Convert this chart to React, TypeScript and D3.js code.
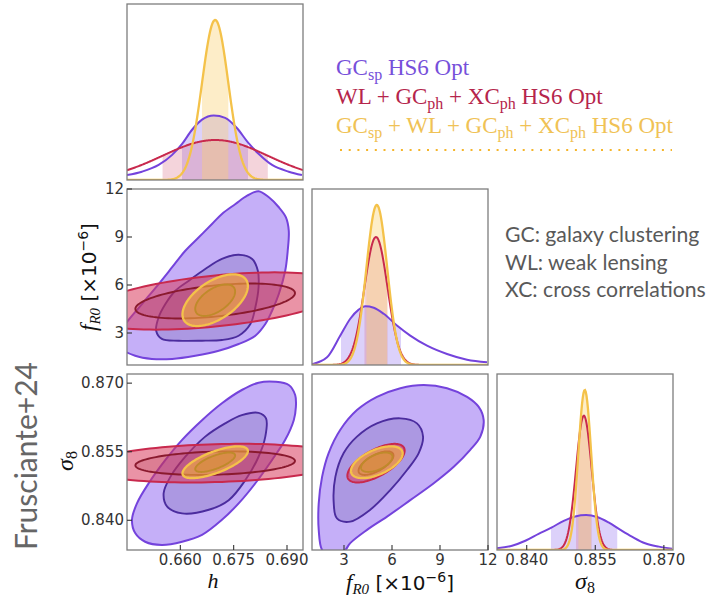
import React from "react";
import * as d3 from "d3";

type Pt = [number, number];

// ---- parameter ranges and ticks ----
const hRange: Pt = [0.645, 0.6945];
const fRange: Pt = [1, 12];
const sRange: Pt = [0.8335, 0.872];
const hTicks = [0.66, 0.675, 0.69];
const fTicks = [3, 6, 9, 12];
const sTicks = [0.84, 0.855, 0.87];

// ---- Gaussian (Fisher) forecasts ----
// WL + GCph + XCph
const wlMean = { h: 0.6698, f: 5.0, s: 0.8525 };
const wlSigma = { h: 0.0148, f: 0.72, s: 0.0017 };
const wlRho = { hf: 0.45, hs: 0.19, fs: 0.65 };
const wlPeak = { h: 0.25, f: 0.8, s: 0.84 };
// GCsp + WL + GCph + XCph
const allMean = { h: 0.6698, f: 5.05, s: 0.8527 };
const allSigma = { h: 0.0037, f: 0.65, s: 0.0014 };
const allRho = { hf: 0.55, hs: 0.7, fs: 0.55 };
const allPeak = { h: 1, f: 1, s: 1 };

// ---- GCsp chains: marginal posteriors [value, relative density] ----
const gcH1D: Pt[] = [
  [0.645, 0.031], [0.6492, 0.052], [0.6539, 0.094], [0.6577, 0.157], [0.6605, 0.226],
  [0.6633, 0.314], [0.6661, 0.377], [0.6694, 0.403], [0.6726, 0.388], [0.6759, 0.325],
  [0.679, 0.235], [0.682, 0.164], [0.6858, 0.094], [0.6905, 0.052], [0.6942, 0.031],
];
const gcF1D: Pt[] = [
  [1.0, 0.005], [1.94, 0.048], [2.77, 0.184], [3.39, 0.289], [3.92, 0.346],
  [4.33, 0.367], [4.86, 0.358], [5.48, 0.32], [6.31, 0.247], [7.14, 0.184],
  [8.19, 0.121], [9.44, 0.069], [10.69, 0.033], [11.94, 0.017],
];
const gcS1D: Pt[] = [
  [0.8335, 0.011], [0.8368, 0.027], [0.8397, 0.058], [0.8426, 0.101], [0.8454, 0.14],
  [0.8481, 0.182], [0.8506, 0.209], [0.853, 0.218], [0.8554, 0.206], [0.8579, 0.172],
  [0.8605, 0.126], [0.863, 0.084], [0.8659, 0.042], [0.8689, 0.021], [0.8718, 0.008],
];
// 68% intervals of the GCsp marginals
const gcBandH: Pt = [0.6605, 0.679];
const gcBandF: Pt = [2.81, 6.56];
const gcBandS: Pt = [0.8453, 0.8598];

// ---- GCsp chains: 2D credible contours (95% and 68%) ----
const gcHF95: Pt[] = [
  [0.682, 11.86], [0.6849, 11.48], [0.6877, 10.86], [0.6897, 10.23], [0.6905, 9.39],
  [0.6902, 8.14], [0.6895, 6.89], [0.6877, 5.44], [0.6858, 4.39], [0.6839, 3.56],
  [0.6811, 2.83], [0.6764, 2.31], [0.6708, 1.89], [0.6642, 1.58], [0.6577, 1.38],
  [0.652, 1.38], [0.6473, 1.58], [0.643, 2.06], [0.6416, 2.69], [0.6436, 3.31],
  [0.6492, 4.81], [0.6539, 6.06], [0.6577, 7.11], [0.6614, 8.14], [0.6652, 8.98],
  [0.6689, 9.81], [0.6717, 10.44], [0.6755, 11.06], [0.6788, 11.58],
];
const gcHF68: Pt[] = [
  [0.6764, 7.89], [0.6802, 7.63], [0.6818, 6.89], [0.682, 5.86], [0.6811, 4.61],
  [0.6797, 3.56], [0.6764, 2.83], [0.6717, 2.56], [0.6661, 2.52], [0.6595, 2.52],
  [0.6548, 2.63], [0.6532, 3.14], [0.6539, 3.98], [0.6558, 4.81], [0.6586, 5.64],
  [0.6624, 6.27], [0.667, 7.0], [0.6717, 7.63],
];
const gcHS95: Pt[] = [
  [0.6867, 0.8703], [0.6905, 0.8696], [0.6923, 0.8674], [0.6925, 0.8648], [0.6919, 0.8619],
  [0.6895, 0.8576], [0.6858, 0.8532], [0.6811, 0.8481], [0.6764, 0.8437], [0.6717, 0.8401],
  [0.6661, 0.8368], [0.6605, 0.8353], [0.6548, 0.8346], [0.6501, 0.8353], [0.6473, 0.8372],
  [0.6464, 0.8401], [0.6478, 0.8437], [0.6511, 0.8481], [0.6558, 0.8532], [0.6605, 0.8576],
  [0.6661, 0.8619], [0.6717, 0.8656], [0.6773, 0.8685], [0.682, 0.8701],
];
const gcHS68: Pt[] = [
  [0.682, 0.8635], [0.6841, 0.8623], [0.6839, 0.8583], [0.682, 0.8539], [0.6783, 0.8488],
  [0.6736, 0.8444], [0.668, 0.8423], [0.6605, 0.8415], [0.6563, 0.843], [0.6553, 0.8459],
  [0.6572, 0.8495], [0.6614, 0.8539], [0.667, 0.8583], [0.6726, 0.8612], [0.6773, 0.863],
];
const gcFS95: Pt[] = [
  [7.98, 0.8696], [9.44, 0.8689], [10.69, 0.867], [11.42, 0.8648], [11.73, 0.8619],
  [11.52, 0.8583], [10.89, 0.8554], [9.86, 0.8517], [8.61, 0.8481], [7.14, 0.8444],
  [5.69, 0.8408], [4.44, 0.8379], [3.39, 0.835], [2.98, 0.8331], [2.14, 0.832],
  [1.63, 0.8335], [1.42, 0.8379], [1.42, 0.8437], [1.63, 0.8495], [2.04, 0.8547],
  [2.77, 0.8598], [3.81, 0.8641], [5.06, 0.867], [6.52, 0.8689],
];
const gcFS68: Pt[] = [
  [6.52, 0.8623], [7.56, 0.8612], [7.94, 0.8583], [7.67, 0.8547], [6.94, 0.851],
  [5.89, 0.8466], [4.64, 0.8423], [3.39, 0.8397], [2.56, 0.8404], [2.36, 0.8437],
  [2.46, 0.8495], [2.98, 0.8547], [3.81, 0.8583], [5.06, 0.8612],
];

// ---- layout ----
const SIZE = 176;
const colLeft = [127, 312, 497];
const rowTop = [4, 189, 374];
const FRAME = "#7d7d7d";
const TICK = "#333";
const SANS = "'DejaVu Sans', sans-serif";
const SERIF = "'Liberation Serif', 'Times New Roman', serif";
const LABEL_SANS = "Lato, 'Open Sans', sans-serif";

type Style = {
  line: string; inner: string; fill: string; fillOp: number;
  innerFill: string; innerOp: number; band: string; bandOp: number; width: number;
};
const PURPLE: Style = {
  line: "#7443dc", inner: "#4b2c9e", fill: "#8c5ff2", fillOp: 0.5,
  innerFill: "#4a3c8c", innerOp: 0.2, band: "#9b7cf2", bandOp: 0.35, width: 2,
};
const CRIMSON: Style = {
  line: "#c8294d", inner: "#8a1a2e", fill: "#d83a5c", fillOp: 0.55,
  innerFill: "#a0203c", innerOp: 0.18, band: "#d9647f", bandOp: 0.28, width: 2,
};
const GOLD: Style = {
  line: "#f4c24a", inner: "#bf8a2a", fill: "#f3b23c", fillOp: 0.6,
  innerFill: "#d08a28", innerOp: 0.35, band: "#fbcf6e", bandOp: 0.38, width: 2.3,
};

const CHI68 = 2.3;
const CHI95 = 6.18;

function ellipse(mx: number, my: number, sx: number, sy: number, rho: number, k: number): Pt[] {
  const r = Math.sqrt(k);
  const c = Math.sqrt(1 - rho * rho);
  return d3.range(0, 360, 3).map((deg) => {
    const t = (deg * Math.PI) / 180;
    return [mx + r * sx * Math.cos(t), my + r * sy * (rho * Math.cos(t) + c * Math.sin(t))] as Pt;
  });
}

type Scale = d3.ScaleLinear<number, number>;

type Contour = { outer: Pt[]; inner: Pt[]; style: Style; smooth: boolean };

function Panel2D({ id, xs, ys, contours }: { id: string; xs: Scale; ys: Scale; contours: Contour[] }) {
  const [x0, x1] = xs.range();
  const [y1, y0] = ys.range();
  const smooth = d3.line<Pt>().x((d) => xs(d[0])).y((d) => ys(d[1])).curve(d3.curveCatmullRomClosed.alpha(0.5));
  const poly = d3.line<Pt>().x((d) => xs(d[0])).y((d) => ys(d[1])).curve(d3.curveLinearClosed);
  return (
    <g>
      <defs>
        <clipPath id={id}>
          <rect x={x0} y={y0} width={x1 - x0} height={y1 - y0} />
        </clipPath>
      </defs>
      <g clipPath={`url(#${id})`}>
        {contours.map((c, i) => {
          const gen = c.smooth ? smooth : poly;
          return (
            <g key={i}>
              <path d={gen(c.outer) ?? ""} fill={c.style.fill} fillOpacity={c.style.fillOp} />
              <path d={gen(c.inner) ?? ""} fill={c.style.innerFill} fillOpacity={c.style.innerOp} />
              <path d={gen(c.outer) ?? ""} fill="none" stroke={c.style.line} strokeWidth={c.style.width} />
              <path d={gen(c.inner) ?? ""} fill="none" stroke={c.style.inner} strokeWidth={1.9} />
            </g>
          );
        })}
      </g>
      <rect x={x0} y={y0} width={x1 - x0} height={y1 - y0} fill="none" stroke={FRAME} strokeWidth={1.3} />
    </g>
  );
}

type Curve1D = { pts: Pt[]; band: Pt; style: Style; smooth: boolean };

function gaussCurve(domain: Pt, mean: number, sigma: number, peak: number): Pt[] {
  const n = 240;
  return d3.range(n + 1).map((i) => {
    const x = domain[0] + ((domain[1] - domain[0]) * i) / n;
    return [x, peak * Math.exp(-0.5 * ((x - mean) / sigma) ** 2)] as Pt;
  });
}

function Panel1D({ id, xs, top, curves }: { id: string; xs: Scale; top: number; curves: Curve1D[] }) {
  const [x0, x1] = xs.range();
  const ys = d3.scaleLinear().domain([0, 1.1]).range([top + SIZE, top]);
  return (
    <g>
      <defs>
        <clipPath id={id}>
          <rect x={x0} y={top} width={x1 - x0} height={SIZE} />
        </clipPath>
        {curves.map((c, i) => (
          <clipPath id={`${id}-band${i}`} key={i}>
            <rect x={xs(c.band[0])} y={top} width={xs(c.band[1]) - xs(c.band[0])} height={SIZE} />
          </clipPath>
        ))}
      </defs>
      <g clipPath={`url(#${id})`}>
        {curves.map((c, i) => {
          const area = d3.area<Pt>().x((d) => xs(d[0])).y0(top + SIZE).y1((d) => ys(d[1]))
            .curve(c.smooth ? d3.curveMonotoneX : d3.curveLinear);
          return (
            <path key={i} d={area(c.pts) ?? ""} fill={c.style.band} fillOpacity={c.style.bandOp}
              clipPath={`url(#${id}-band${i})`} />
          );
        })}
        {curves.map((c, i) => {
          const line = d3.line<Pt>().x((d) => xs(d[0])).y((d) => ys(d[1]))
            .curve(c.smooth ? d3.curveMonotoneX : d3.curveLinear);
          return <path key={i} d={line(c.pts) ?? ""} fill="none" stroke={c.style.line} strokeWidth={c.style.width} />;
        })}
      </g>
      <rect x={x0} y={top} width={x1 - x0} height={SIZE} fill="none" stroke={FRAME} strokeWidth={1.3} />
    </g>
  );
}

function AxisBottom({ xs, y, ticks, fmt }: { xs: Scale; y: number; ticks: number[]; fmt: (v: number) => string }) {
  return (
    <g>
      {ticks.map((t) => (
        <g key={t}>
          <line x1={xs(t)} x2={xs(t)} y1={y} y2={y - 5} stroke={TICK} strokeWidth={1.1} />
          <text x={xs(t)} y={y + 15} textAnchor="middle" fontFamily={SANS} fontSize={15} fill="#333">
            {fmt(t)}
          </text>
        </g>
      ))}
    </g>
  );
}

function AxisLeft({ ys, x, ticks, fmt }: { ys: Scale; x: number; ticks: number[]; fmt: (v: number) => string }) {
  return (
    <g>
      {ticks.map((t) => (
        <g key={t}>
          <line x1={x} x2={x + 5} y1={ys(t)} y2={ys(t)} stroke={TICK} strokeWidth={1.1} />
          <text x={x - 3} y={ys(t)} textAnchor="end" dominantBaseline="central" fontFamily={SANS} fontSize={15} fill="#333">
            {fmt(t)}
          </text>
        </g>
      ))}
    </g>
  );
}

type Part = { t: string; sub?: boolean };
const legendGC: Part[] = [{ t: "GC" }, { t: "sp", sub: true }, { t: " HS6 Opt" }];
const legendWL: Part[] = [
  { t: "WL + GC" }, { t: "ph", sub: true }, { t: " + XC" }, { t: "ph", sub: true }, { t: " HS6 Opt" },
];
const legendAll: Part[] = [
  { t: "GC" }, { t: "sp", sub: true }, { t: " + WL + GC" }, { t: "ph", sub: true },
  { t: " + XC" }, { t: "ph", sub: true }, { t: " HS6 Opt" },
];
const glossary = ["GC: galaxy clustering", "WL: weak lensing", "XC: cross correlations"];

function RichText({ x, y, parts, color }: { x: number; y: number; parts: Part[]; color: string }) {
  let prevSub = false;
  return (
    <text x={x} y={y} fill={color} fontFamily={SERIF} fontSize={23} xmlSpace="preserve">
      {parts.map((p, i) => {
        const dy = p.sub && !prevSub ? 5 : !p.sub && prevSub ? -5 : 0;
        prevSub = !!p.sub;
        return (
          <tspan key={i} dy={dy} fontSize={p.sub ? 16 : 23}>
            {p.t}
          </tspan>
        );
      })}
    </text>
  );
}

function FLabel({ x, y, rotate }: { x: number; y: number; rotate?: boolean }) {
  return (
    <text transform={`translate(${x},${y})${rotate ? " rotate(-90)" : ""}`} textAnchor="middle" fill="#111" xmlSpace="preserve">
      <tspan fontFamily={SERIF} fontStyle="italic" fontSize={23}>f</tspan>
      <tspan fontFamily={SERIF} fontStyle="italic" fontSize={15} dy={4}>R0</tspan>
      <tspan fontFamily={SANS} fontSize={20} dy={-4}>{" [×10"}</tspan>
      <tspan fontFamily={SANS} fontSize={14} dy={-8}>−6</tspan>
      <tspan fontFamily={SANS} fontSize={20} dy={8}>]</tspan>
    </text>
  );
}

function SigmaLabel({ x, y, rotate }: { x: number; y: number; rotate?: boolean }) {
  return (
    <text transform={`translate(${x},${y})${rotate ? " rotate(-90)" : ""}`} textAnchor="middle" fill="#111">
      <tspan fontFamily={SERIF} fontStyle="italic" fontSize={24}>σ</tspan>
      <tspan fontFamily={SERIF} fontSize={16} dy={4}>8</tspan>
    </text>
  );
}

export default function App() {
  const xH = d3.scaleLinear().domain(hRange).range([colLeft[0], colLeft[0] + SIZE]);
  const xF = d3.scaleLinear().domain(fRange).range([colLeft[1], colLeft[1] + SIZE]);
  const xS = d3.scaleLinear().domain(sRange).range([colLeft[2], colLeft[2] + SIZE]);
  const yF = d3.scaleLinear().domain(fRange).range([rowTop[1] + SIZE, rowTop[1]]);
  const yS = d3.scaleLinear().domain(sRange).range([rowTop[2] + SIZE, rowTop[2]]);

  const gauss2 = (
    mean: typeof wlMean, sig: typeof wlSigma, rho: number, a: "h" | "f" | "s", b: "h" | "f" | "s", style: Style,
  ): Contour => ({
    outer: ellipse(mean[a], mean[b], sig[a], sig[b], rho, CHI95),
    inner: ellipse(mean[a], mean[b], sig[a], sig[b], rho, CHI68),
    style,
    smooth: false,
  });

  const gauss1 = (mean: typeof wlMean, sig: typeof wlSigma, peak: typeof wlPeak, k: "h" | "f" | "s", dom: Pt, style: Style): Curve1D => ({
    pts: gaussCurve(dom, mean[k], sig[k], peak[k]),
    band: [mean[k] - sig[k], mean[k] + sig[k]],
    style,
    smooth: false,
  });

  const f3 = d3.format(".3f");
  const fi = d3.format("d");

  return (
    <svg width={713} height={597} style={{ position: "absolute", left: 0, top: 0, background: "#fff" }}>
      <rect width={713} height={597} fill="#fff" />

      {/* diagonal: marginals */}
      <Panel1D id="m-h" xs={xH} top={rowTop[0]} curves={[
        { pts: gcH1D, band: gcBandH, style: PURPLE, smooth: true },
        gauss1(wlMean, wlSigma, wlPeak, "h", hRange, CRIMSON),
        gauss1(allMean, allSigma, allPeak, "h", hRange, GOLD),
      ]} />
      <Panel1D id="m-f" xs={xF} top={rowTop[1]} curves={[
        { pts: gcF1D, band: gcBandF, style: PURPLE, smooth: true },
        gauss1(wlMean, wlSigma, wlPeak, "f", fRange, CRIMSON),
        gauss1(allMean, allSigma, allPeak, "f", fRange, GOLD),
      ]} />
      <Panel1D id="m-s" xs={xS} top={rowTop[2]} curves={[
        { pts: gcS1D, band: gcBandS, style: PURPLE, smooth: true },
        gauss1(wlMean, wlSigma, wlPeak, "s", sRange, CRIMSON),
        gauss1(allMean, allSigma, allPeak, "s", sRange, GOLD),
      ]} />

      {/* off-diagonal: joint contours */}
      <Panel2D id="c-hf" xs={xH} ys={yF} contours={[
        { outer: gcHF95, inner: gcHF68, style: PURPLE, smooth: true },
        gauss2(wlMean, wlSigma, wlRho.hf, "h", "f", CRIMSON),
        gauss2(allMean, allSigma, allRho.hf, "h", "f", GOLD),
      ]} />
      <Panel2D id="c-hs" xs={xH} ys={yS} contours={[
        { outer: gcHS95, inner: gcHS68, style: PURPLE, smooth: true },
        gauss2(wlMean, wlSigma, wlRho.hs, "h", "s", CRIMSON),
        gauss2(allMean, allSigma, allRho.hs, "h", "s", GOLD),
      ]} />
      <Panel2D id="c-fs" xs={xF} ys={yS} contours={[
        { outer: gcFS95, inner: gcFS68, style: PURPLE, smooth: true },
        gauss2(wlMean, wlSigma, wlRho.fs, "f", "s", CRIMSON),
        gauss2(allMean, allSigma, allRho.fs, "f", "s", GOLD),
      ]} />

      {/* axes */}
      <AxisLeft ys={yF} x={colLeft[0]} ticks={fTicks} fmt={fi} />
      <AxisLeft ys={yS} x={colLeft[0]} ticks={sTicks} fmt={f3} />
      <AxisBottom xs={xH} y={rowTop[2] + SIZE} ticks={hTicks} fmt={f3} />
      <AxisBottom xs={xF} y={rowTop[2] + SIZE} ticks={fTicks} fmt={fi} />
      <AxisBottom xs={xS} y={rowTop[2] + SIZE} ticks={sTicks} fmt={f3} />

      {/* axis titles */}
      <text x={213} y={588} textAnchor="middle" fontFamily={SERIF} fontStyle="italic" fontSize={22} fill="#111">h</text>
      <FLabel x={400} y={590} />
      <SigmaLabel x={585} y={589} />
      <FLabel x={96} y={277} rotate />
      <SigmaLabel x={73} y={461} rotate />

      {/* legend */}
      <RichText x={336} y={75} parts={legendGC} color="#7650da" />
      <RichText x={336} y={104} parts={legendWL} color="#b5254b" />
      <RichText x={336} y={133} parts={legendAll} color="#f0c255" />
      <line x1={340} x2={672} y1={150} y2={150} stroke="#f5b52a" strokeWidth={2.2} strokeDasharray="2 6.7" />

      {glossary.map((g, i) => (
        <text key={g} x={505} y={242 + i * 27.5} fontFamily={LABEL_SANS} fontSize={21.2} fill="#595959">
          {g}
        </text>
      ))}

      <text transform="translate(37,456) rotate(-90)" textAnchor="middle" fontFamily={LABEL_SANS}
        fontSize={30} fill="#666">
        Frusciante+24
      </text>
    </svg>
  );
}
